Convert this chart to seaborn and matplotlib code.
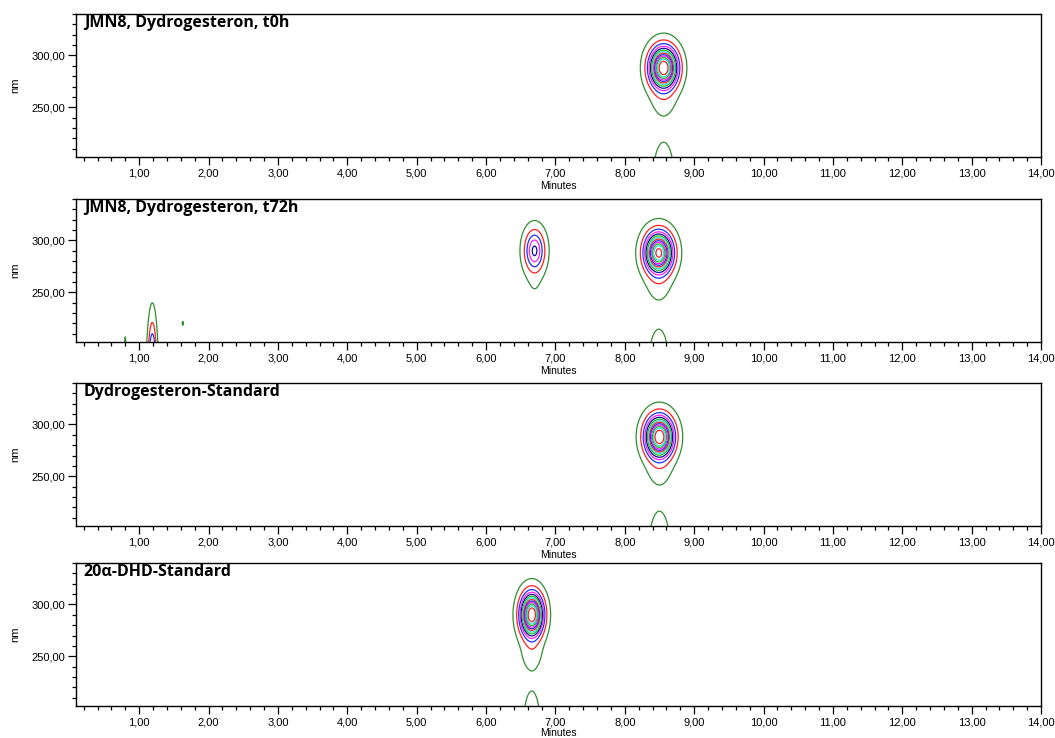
import numpy as np
import matplotlib.pyplot as plt
import seaborn as sns
from matplotlib.ticker import MultipleLocator, FixedLocator, FixedFormatter

# panel titles, top to bottom
titles = ["JMN8, Dydrogesteron, t0h", "JMN8, Dydrogesteron, t72h",
          "Dydrogesteron-Standard", "20α-DHD-Standard"]

# UV bands of each compound: (centre nm, width nm, relative absorbance)
spec_dydro = [(288, 12.0, 1.0), (258, 12.0, 0.04), (185, 26.0, 0.041)]
spec_dhd = [(290, 12.5, 1.0), (255, 12.0, 0.05), (185, 26.0, 0.041)]
spec_front = [(160, 31.0, 1.0)]
spec_spot = [(220, 2.5, 1.0)]

# peaks of each run: (retention time min, width min, height, spectrum)
peaks_t0h = [(8.56, 0.12, 1.0, spec_dydro)]
peaks_t72h = [(1.19, 0.036, 0.55, spec_front),
              (0.80, 0.012, 0.063, spec_front),
              (1.63, 0.012, 0.026, spec_spot),
              (6.70, 0.09, 0.31, spec_dhd),
              (8.49, 0.12, 0.92, spec_dydro)]
peaks_std = [(8.50, 0.12, 1.0, spec_dydro)]
peaks_dhd = [(6.66, 0.097, 1.0, spec_dhd)]
runs = [peaks_t0h, peaks_t72h, peaks_std, peaks_dhd]

# contour levels (AU, relative) and their colours, outer to inner
levels = [0.02, 0.08, 0.15, 0.22, 0.29, 0.36, 0.43, 0.50, 0.57, 0.64, 0.71, 0.78, 0.87]
level_colors = ["#2f8f2f", "#ff2020", "#2030ff", "#ff20ff", "#101090", "#20c020",
                "#30dede", "#ff2020", "#2030ff", "#ff20ff", "#20c020", "#30dede", "#ff2020"]

x_ticks = [1, 2, 3, 4, 5, 6, 7, 8, 9, 10, 11, 12, 13, 14]
x_tick_labels = ["1,00", "2,00", "3,00", "4,00", "5,00", "6,00", "7,00",
                 "8,00", "9,00", "10,00", "11,00", "12,00", "13,00", "14,00"]
y_ticks = [250, 300]
y_tick_labels = ["250,00", "300,00"]

sns.set_style("ticks")
plt.rcParams["font.family"] = ["Liberation Sans", "DejaVu Sans"]
plt.rcParams["text.color"] = "black"
plt.rcParams["axes.labelcolor"] = "black"

t = np.linspace(0.09, 14.0, 2800)
wl = np.linspace(202, 340, 277)
T, W = np.meshgrid(t, wl)


def surface(peaks):
    z = np.zeros_like(T)
    for rt, sig, height, spec in peaks:
        s = np.zeros_like(W)
        for c, w, a in spec:
            s += a * np.exp(-(W - c) ** 2 / (2 * w ** 2))
        z += height * np.exp(-(T - rt) ** 2 / (2 * sig ** 2)) * s
    return z


fig = plt.figure(figsize=(10.55, 7.38), dpi=100)
bottoms = [157, 342, 526, 706]
for i, (title, peaks, bot) in enumerate(zip(titles, runs, bottoms)):
    ax = fig.add_axes([76 / 1055, 1 - bot / 738, 965 / 1055, 143 / 738])
    ax.contour(T, W, surface(peaks), levels=levels, colors=level_colors, linewidths=0.9)
    ax.set_xlim(0.09, 14.0)
    ax.set_ylim(202, 340)

    ax.xaxis.set_major_locator(FixedLocator(x_ticks))
    ax.xaxis.set_major_formatter(FixedFormatter(x_tick_labels))
    ax.xaxis.set_minor_locator(MultipleLocator(0.2))
    ax.yaxis.set_major_locator(FixedLocator(y_ticks))
    ax.yaxis.set_major_formatter(FixedFormatter(y_tick_labels))
    ax.yaxis.set_minor_locator(MultipleLocator(10))
    ax.tick_params(which="major", length=6, width=0.9, direction="out",
                   labelsize=8, pad=2, colors="black")
    ax.tick_params(which="minor", length=3, width=0.9, direction="out", colors="black")
    for sp in ax.spines.values():
        sp.set_visible(True)
        sp.set_color("black")
        sp.set_linewidth(1.0)

    ax.set_xlabel("Minutes", fontsize=7.5)
    ax.xaxis.set_label_coords(0.5, -0.155 if i == 3 else -0.165)
    ax.set_ylabel("nm", fontsize=8)
    ax.yaxis.set_label_coords(-0.058, 0.5)
    ax.text(0.008, 0.995, title, transform=ax.transAxes, ha="left", va="top",
            fontsize=11.5, fontweight="bold", color="black",
            family=["Open Sans", "DejaVu Sans"])

fig.savefig("out.png", dpi=100)
